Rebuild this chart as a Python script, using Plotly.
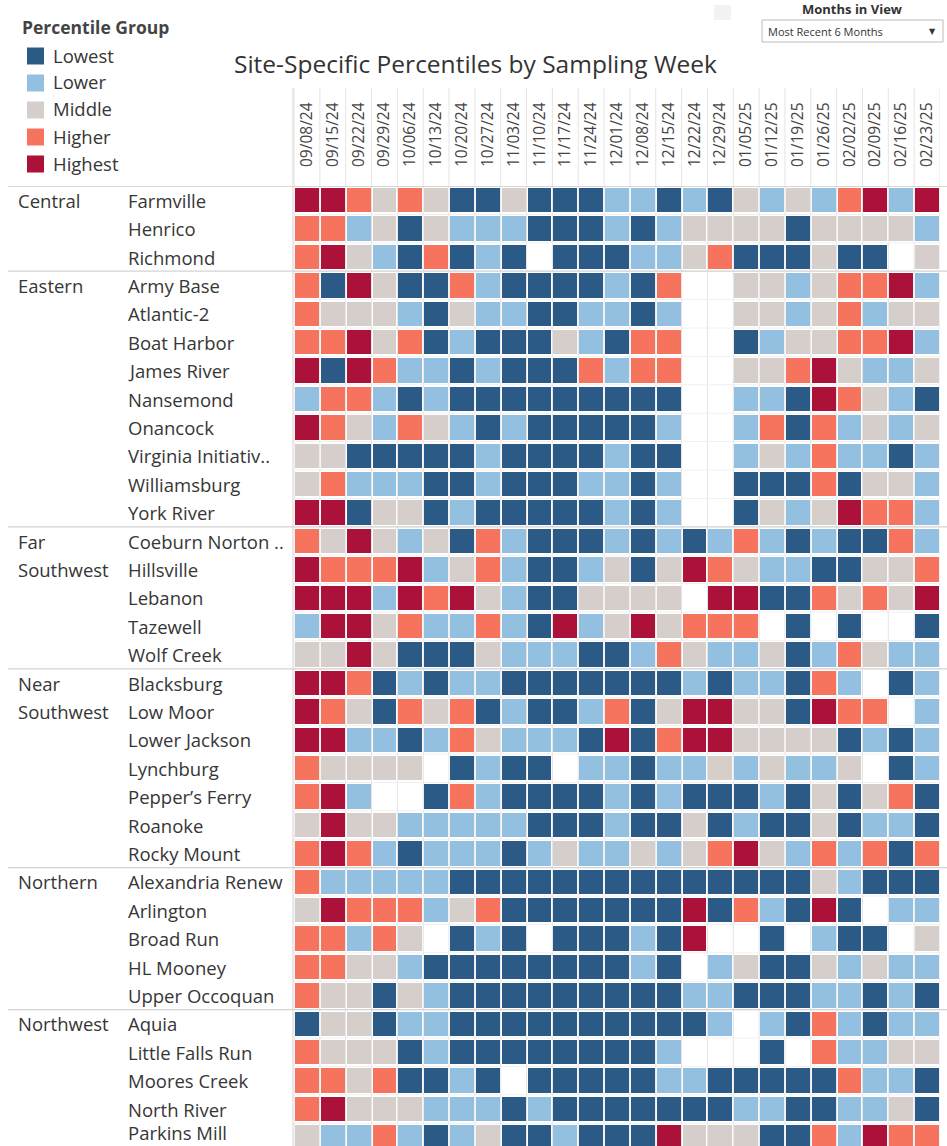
import plotly.graph_objects as go

weeks = ["09/08/24", "09/15/24", "09/22/24", "09/29/24", "10/06/24", "10/13/24",
         "10/20/24", "10/27/24", "11/03/24", "11/10/24", "11/17/24", "11/24/24",
         "12/01/24", "12/08/24", "12/15/24", "12/22/24", "12/29/24", "01/05/25",
         "01/12/25", "01/19/25", "01/26/25", "02/02/25", "02/09/25", "02/16/25",
         "02/23/25"]

group_names = ["Lowest", "Lower", "Middle", "Higher", "Highest"]
group_colors = ["#2c5a87", "#93c0e0", "#d5cecb", "#f6735e", "#ac1239"]

# codes: 1=Lowest .. 5=Highest, 0 = no data
central_sites = ["Farmville", "Henrico", "Richmond"]
central = [
    [5,5,4,3,4,3,1,1,3,1,1,1,2,2,1,2,1,3,2,3,2,4,5,2,5],
    [4,4,2,3,1,3,2,2,2,1,1,1,2,1,2,3,3,3,3,1,3,3,3,3,2],
    [4,5,3,2,1,4,1,2,1,0,1,1,1,2,2,3,4,1,1,1,3,1,1,0,3],
]
eastern_sites = ["Army Base", "Atlantic-2", "Boat Harbor", "James River", "Nansemond",
                 "Onancock", "Virginia Initiativ..", "Williamsburg", "York River"]
eastern = [
    [4,1,5,3,1,1,4,2,1,1,1,1,2,1,4,0,0,3,3,2,3,4,4,5,2],
    [4,3,3,3,2,1,3,2,2,1,1,2,2,1,2,0,0,3,3,2,3,4,2,3,3],
    [4,4,5,3,4,1,2,1,1,1,3,2,1,4,4,0,0,1,2,3,3,4,4,5,2],
    [5,1,5,4,2,2,1,2,1,1,1,4,2,4,4,0,0,3,3,4,5,3,2,2,3],
    [2,4,4,2,1,2,1,1,1,1,1,1,1,1,1,0,0,2,2,1,5,4,3,2,1],
    [5,4,3,2,4,3,2,1,2,1,1,1,1,1,2,0,0,2,4,1,4,2,3,2,3],
    [3,3,1,1,1,1,1,2,1,1,1,1,2,1,1,0,0,2,3,2,4,2,2,1,2],
    [3,4,2,2,2,1,1,2,1,1,1,2,2,1,2,0,0,1,1,1,4,1,3,3,2],
    [5,5,1,3,3,1,2,1,1,1,1,1,2,1,2,0,0,1,3,2,3,5,4,4,2],
]
farsw_sites = ["Coeburn Norton ..", "Hillsville", "Lebanon", "Tazewell", "Wolf Creek"]
farsw = [
    [4,3,5,3,2,3,1,4,2,1,1,1,2,1,2,1,2,4,2,1,2,1,1,4,2],
    [5,4,4,4,5,2,3,4,2,1,1,2,3,1,3,5,4,3,2,2,1,1,3,3,4],
    [5,5,5,2,5,4,5,3,2,1,1,3,3,3,3,0,5,5,1,1,4,3,4,3,5],
    [2,5,5,3,4,2,2,4,2,1,5,2,3,5,3,4,4,4,0,1,0,1,0,0,1],
    [3,3,5,3,1,1,1,3,2,2,2,1,1,2,4,3,2,2,3,1,2,4,3,2,2],
]
nearsw_sites = ["Blacksburg", "Low Moor", "Lower Jackson", "Lynchburg",
                "Pepper\u2019s Ferry", "Roanoke", "Rocky Mount"]
nearsw = [
    [5,5,4,1,2,1,2,2,1,1,1,1,1,1,1,2,1,2,2,1,4,2,0,1,2],
    [5,4,3,1,4,3,4,1,2,1,1,2,4,1,3,5,5,3,3,1,5,4,4,0,2],
    [5,5,2,2,1,2,4,3,2,2,2,1,5,1,4,5,5,3,3,3,3,1,2,1,2],
    [4,3,3,3,3,0,1,2,1,1,0,2,2,1,2,2,3,2,3,2,2,3,0,1,2],
    [4,5,2,0,0,1,4,2,1,1,1,1,2,1,2,1,1,1,2,1,3,1,3,4,1],
    [3,5,3,3,2,2,2,2,2,1,1,1,2,1,1,3,1,2,1,1,3,1,2,2,1],
    [4,5,4,2,1,2,2,2,1,2,3,2,2,3,2,3,4,5,3,2,4,2,4,1,4],
]
northern_sites = ["Alexandria Renew", "Arlington", "Broad Run", "HL Mooney", "Upper Occoquan"]
northern = [
    [4,2,2,2,2,2,1,1,1,1,1,1,1,1,1,1,1,1,1,1,3,2,1,1,1],
    [3,5,4,4,4,2,3,4,1,1,1,1,1,1,1,5,1,4,2,1,5,1,0,2,2],
    [4,4,2,4,3,0,1,2,1,0,1,1,1,2,1,5,0,0,1,0,2,1,1,0,3],
    [4,4,3,3,2,1,1,1,1,1,1,1,1,2,1,0,2,3,1,1,3,2,3,2,2],
    [4,3,3,1,3,2,1,1,1,1,1,1,1,1,1,2,2,1,1,1,2,2,1,2,1],
]
northwest_sites = ["Aquia", "Little Falls Run", "Moores Creek", "North River", "Parkins Mill"]
northwest = [
    [1,3,3,1,2,2,1,1,1,1,1,1,1,1,1,1,2,0,2,1,4,2,1,2,2],
    [4,3,3,3,1,2,1,1,1,1,1,1,1,1,2,0,0,0,1,0,4,2,2,3,3],
    [4,4,3,4,1,1,2,1,0,1,1,1,1,1,2,2,1,1,1,1,1,4,2,2,1],
    [4,5,3,3,3,2,2,2,1,2,1,1,1,1,1,1,1,2,2,1,1,2,2,3,1],
    [3,2,2,4,2,1,2,3,1,1,2,1,1,1,5,3,3,3,1,1,4,2,5,4,4],
]

regions = [
    (["Central"], central_sites, central),
    (["Eastern"], eastern_sites, eastern),
    (["Far", "Southwest"], farsw_sites, farsw),
    (["Near", "Southwest"], nearsw_sites, nearsw),
    (["Northern"], northern_sites, northern),
    (["Northwest"], northwest_sites, northwest),
]

sites, z, htext = [], [], []
region_start = []
for rname, snames, rows in regions:
    region_start.append(len(sites))
    for s, r in zip(snames, rows):
        sites.append(s)
        z.append([v if v > 0 else None for v in r])
        htext.append([group_names[v - 1] if v > 0 else "" for v in r])

W, H = 947, 1146
L, R, T, B = 294, 7, 186, 0
PW, PH = W - L - R, H - T - B
ROW = 28.4


def xp(px):
    return (px - L) / PW


def yp(py):
    return (H - B - py) / PH


cs = []
n = len(group_colors)
for i, c in enumerate(group_colors):
    cs.append([i / n, c])
    cs.append([(i + 1) / n, c])

fig = go.Figure(go.Heatmap(
    z=z, x=list(range(len(weeks))), y=list(range(len(sites))),
    colorscale=cs, zmin=0.5, zmax=5.5, showscale=False,
    xgap=2, ygap=4, text=htext,
    hovertemplate="%{text}<extra></extra>",
))

font = "Open Sans"
txt = "#363636"
shapes, ann = [], []

# faint column and row dividers inside grid
for i in range(len(weeks) + 1):
    shapes.append(dict(type="line", xref="x", yref="paper", x0=i - 0.5, x1=i - 0.5,
                       y0=0, y1=yp(88), line=dict(color="#e4e4e4", width=1), layer="below"))
for j in range(len(sites)):
    shapes.append(dict(type="line", xref="paper", yref="y", x0=0, x1=1,
                       y0=j + 0.5, y1=j + 0.5, line=dict(color="#f0f0f0", width=1), layer="below"))

# group separators
for k in region_start + [0]:
    shapes.append(dict(type="line", xref="paper", yref="y", x0=xp(8), x1=xp(947),
                       y0=k - 0.5, y1=k - 0.5, line=dict(color="#d4d4d4", width=1.3), layer="above"))
shapes.append(dict(type="line", xref="paper", yref="paper", x0=xp(293), x1=xp(293),
                   y0=0, y1=yp(88), line=dict(color="#d4d4d4", width=1)))

# row labels
for (rname, snames, rows), k in zip(regions, region_start):
    for m, part in enumerate(rname):
        ann.append(dict(text=part, xref="paper", yref="y", x=xp(16), y=k + m,
                        xanchor="left", yanchor="middle", showarrow=False,
                        font=dict(family=font, size=18.5, color=txt)))
for j, s in enumerate(sites):
    ann.append(dict(text=s, xref="paper", yref="y", x=xp(126), y=j,
                    xanchor="left", yanchor="middle", showarrow=False,
                    yshift=5 if j == len(sites) - 1 else 0,
                    font=dict(family=font, size=18.5, color=txt)))

# title
ann.append(dict(text="Site-Specific Percentiles by Sampling Week", xref="paper", yref="paper",
                x=xp(475), y=yp(64), xanchor="center", yanchor="middle", showarrow=False,
                font=dict(family=font, size=24.5, color="#333333")))

# legend
ann.append(dict(text="<b>Percentile Group</b>", xref="paper", yref="paper", x=xp(20), y=yp(27),
                xanchor="left", yanchor="middle", showarrow=False,
                font=dict(family=font, size=17.5, color="#444444")))
for i, (g, c) in enumerate(zip(group_names, group_colors)):
    cy = 56 + i * 27
    shapes.append(dict(type="rect", xref="paper", yref="paper", x0=xp(27), x1=xp(44),
                       y0=yp(cy - 8.5), y1=yp(cy + 8.5), fillcolor=c, line=dict(width=0)))
    ann.append(dict(text=g, xref="paper", yref="paper", x=xp(51), y=yp(cy - 1),
                    xanchor="left", yanchor="middle", showarrow=False,
                    font=dict(family=font, size=18.5, color=txt)))

# filter control (top right)
ann.append(dict(text="<b>Months in View</b>", xref="paper", yref="paper", x=xp(852), y=yp(9),
                xanchor="center", yanchor="middle", showarrow=False,
                font=dict(family=font, size=13, color="#333333")))
shapes.append(dict(type="rect", xref="paper", yref="paper", x0=xp(714), x1=xp(731),
                   y0=yp(20), y1=yp(5), fillcolor="#f2f2f2", line=dict(width=0)))
shapes.append(dict(type="rect", xref="paper", yref="paper", x0=xp(762), x1=xp(943),
                   y0=yp(42), y1=yp(20), fillcolor="white", line=dict(color="#bdbdbd", width=1)))
ann.append(dict(text="Most Recent 6 Months", xref="paper", yref="paper", x=xp(766), y=yp(31.5),
                xanchor="left", yanchor="middle", showarrow=False,
                font=dict(family=font, size=11, color="#333333")))
ann.append(dict(text="\u25BC", xref="paper", yref="paper", x=xp(932), y=yp(31),
                xanchor="center", yanchor="middle", showarrow=False,
                font=dict(family="DejaVu Sans", size=8, color="#333333")))

fig.update_layout(
    width=W, height=H, margin=dict(l=L, r=R, t=T, b=B, pad=0),
    plot_bgcolor="white", paper_bgcolor="white",
    shapes=shapes, annotations=ann, showlegend=False,
    xaxis=dict(side="top", tickmode="array", tickvals=list(range(len(weeks))), ticktext=weeks,
               tickangle=-90, range=[-0.5, len(weeks) - 0.5], showgrid=False, zeroline=False,
               ticks="", ticklabelstandoff=18, fixedrange=True,
               tickfont=dict(family=font, size=15.5, color="#444444")),
    yaxis=dict(range=[-0.5 + PH / ROW, -0.5], showticklabels=False, showgrid=False,
               zeroline=False, ticks="", fixedrange=True),
)

fig.write_html("out.html", config={"displayModeBar": False},
               post_script="document.body.style.margin='0';document.body.style.overflow='hidden';")
